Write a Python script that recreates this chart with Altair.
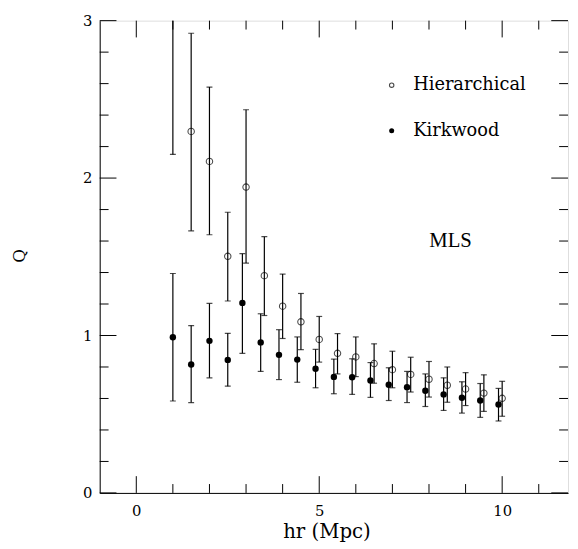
import altair as alt
import pandas as pd

# Hierarchical (open circles)
h_x = [1.0, 1.5, 2.0, 2.5, 3.0, 3.5, 4.0, 4.5, 5.0, 5.5, 6.0, 6.5, 7.0, 7.5, 8.0, 8.5, 9.0, 9.5, 10.0]
h_q = [3.5, 2.296, 2.106, 1.503, 1.943, 1.380, 1.186, 1.087, 0.975, 0.887, 0.864, 0.822, 0.783, 0.753, 0.722, 0.684, 0.660, 0.634, 0.601]
h_lo = [2.15, 1.665, 1.64, 1.219, 1.46, 1.127, 0.981, 0.910, 0.831, 0.756, 0.739, 0.697, 0.668, 0.641, 0.609, 0.576, 0.555, 0.518, 0.487]
h_hi = [4.5, 2.92, 2.578, 1.783, 2.434, 1.628, 1.390, 1.267, 1.121, 1.012, 0.991, 0.947, 0.900, 0.862, 0.835, 0.800, 0.764, 0.750, 0.709]

# Kirkwood (filled circles)
k_x = [1.0, 1.5, 2.0, 2.5, 2.9, 3.4, 3.9, 4.4, 4.9, 5.4, 5.9, 6.4, 6.9, 7.4, 7.9, 8.4, 8.9, 9.4, 9.9]
k_q = [0.989, 0.816, 0.966, 0.845, 1.207, 0.956, 0.877, 0.847, 0.789, 0.737, 0.735, 0.714, 0.687, 0.672, 0.649, 0.626, 0.605, 0.587, 0.562]
k_lo = [0.584, 0.574, 0.731, 0.678, 0.887, 0.772, 0.720, 0.703, 0.668, 0.630, 0.626, 0.607, 0.587, 0.574, 0.549, 0.524, 0.507, 0.480, 0.457]
k_hi = [1.394, 1.063, 1.204, 1.014, 1.52, 1.138, 1.037, 0.991, 0.912, 0.850, 0.852, 0.828, 0.795, 0.772, 0.756, 0.731, 0.706, 0.695, 0.664]

x_major = [0, 5, 10]
x_minor = [1, 2, 3, 4, 6, 7, 8, 9, 11]
y_major = [0, 1, 2, 3]
y_minor = [0.2, 0.4, 0.6, 0.8, 1.2, 1.4, 1.6, 1.8, 2.2, 2.4, 2.6, 2.8]

legend_labels = ["Hierarchical", "Kirkwood"]
panel_label = "MLS"

W, H = 475, 479
FONT = "DejaVu Serif"

hdf = pd.DataFrame({"x": h_x, "q": h_q, "lo": h_lo, "hi": h_hi})
kdf = pd.DataFrame({"x": k_x, "q": k_q, "lo": k_lo, "hi": k_hi})

xs = alt.Scale(domain=[-1, 11.8], nice=False, zero=False)
ys = alt.Scale(domain=[0, 3], nice=False, zero=False)

xaxis = alt.Axis(values=x_major, format="d", ticks=False, grid=False, labelPadding=11,
                 labelFont=FONT, labelFontSize=15, labelColor="black",
                 title="hr (Mpc)", titleFont=FONT, titleFontSize=20, titleColor="black",
                 titleFontWeight="normal", titlePadding=3, titleX=230, domainColor="black")
yaxis = alt.Axis(values=y_major, format="d", ticks=False, grid=False, labelPadding=8,
                 labelFont=FONT, labelFontSize=15, labelColor="black",
                 title="Q", titleFont=FONT, titleFontSize=17, titleColor="black",
                 titleFontWeight="normal", titleX=-81, titleY=238, titleAngle=270,
                 titleBaseline="middle", domainColor="black")


def errbars(df):
    base = alt.Chart(df)
    bar = base.mark_rule(color="black", strokeWidth=1.2, clip=True).encode(
        x=alt.X("x:Q", scale=xs, axis=xaxis),
        y=alt.Y("lo:Q", scale=ys, axis=yaxis),
        y2="hi:Q",
    )
    cap_lo = base.mark_tick(color="black", orient="horizontal", size=6, thickness=1.2, clip=True).encode(
        x=alt.X("x:Q", scale=xs), y=alt.Y("lo:Q", scale=ys))
    cap_hi = base.mark_tick(color="black", orient="horizontal", size=6, thickness=1.2, clip=True).encode(
        x=alt.X("x:Q", scale=xs), y=alt.Y("hi:Q", scale=ys))
    return [bar, cap_lo, cap_hi]


h_pts = alt.Chart(hdf).mark_point(shape="circle", filled=False, color="black",
                                  strokeWidth=1.1, size=42, clip=True).encode(
    x=alt.X("x:Q", scale=xs), y=alt.Y("q:Q", scale=ys))
k_pts = alt.Chart(kdf).mark_point(shape="circle", filled=True, color="black",
                                  opacity=1, size=42, clip=True).encode(
    x=alt.X("x:Q", scale=xs), y=alt.Y("q:Q", scale=ys))


def tick_layer(vals, axis, length):
    d = pd.DataFrame({"v": vals})
    c = alt.Chart(d).mark_rule(color="black", strokeWidth=1)
    if axis == "bottom":
        return c.encode(x=alt.X("v:Q", scale=xs), y=alt.value(H), y2=alt.value(H - length))
    if axis == "top":
        return c.encode(x=alt.X("v:Q", scale=xs), y=alt.value(0), y2=alt.value(length))
    if axis == "left":
        return c.encode(y=alt.Y("v:Q", scale=ys), x=alt.value(0), x2=alt.value(length))
    return c.encode(y=alt.Y("v:Q", scale=ys), x=alt.value(W), x2=alt.value(W - length))


ticks = []
for side in ["bottom", "top"]:
    ticks.append(tick_layer(x_major, side, 17))
    ticks.append(tick_layer(x_minor, side, 9))
for side in ["left", "right"]:
    ticks.append(tick_layer(y_major, side, 17))
    ticks.append(tick_layer(y_minor, side, 9))

leg_df = pd.DataFrame({"label": legend_labels})
leg_open = alt.Chart(leg_df).transform_filter(alt.datum.label == legend_labels[0]).mark_point(
    shape="circle", filled=False, color="black", size=20, strokeWidth=1.1).encode(
    x=alt.datum(6.98, scale=xs), y=alt.datum(2.59, scale=ys))
leg_fill = alt.Chart(leg_df).transform_filter(alt.datum.label == legend_labels[1]).mark_point(
    shape="circle", filled=True, color="black", opacity=1, size=26).encode(
    x=alt.datum(6.98, scale=xs), y=alt.datum(2.30, scale=ys))
leg_t1 = alt.Chart(leg_df).transform_filter(alt.datum.label == legend_labels[0]).mark_text(
    align="left", baseline="middle", font=FONT, fontSize=18, color="black").encode(
    x=alt.datum(7.57, scale=xs), y=alt.datum(2.59, scale=ys), text="label:N")
leg_t2 = alt.Chart(leg_df).transform_filter(alt.datum.label == legend_labels[1]).mark_text(
    align="left", baseline="middle", font=FONT, fontSize=18, color="black").encode(
    x=alt.datum(7.57, scale=xs), y=alt.datum(2.30, scale=ys), text="label:N")
mls = alt.Chart(pd.DataFrame({"t": [panel_label]})).mark_text(
    align="center", baseline="middle", font="Liberation Serif", fontSize=21, color="black").encode(
    x=alt.datum(8.59, scale=xs), y=alt.datum(1.60, scale=ys), text="t:N")

layers = errbars(hdf) + errbars(kdf) + [h_pts, k_pts] + ticks + [leg_open, leg_fill, leg_t1, leg_t2, mls]

chart = alt.layer(*layers).properties(
    width=W, height=H,
    autosize=alt.AutoSizeParams(type="none"),
    padding={"left": 93, "top": 9, "right": 2, "bottom": 50},
).configure_view(stroke="black", strokeWidth=1.2).configure_axis(
    labelFont=FONT, titleFont=FONT, labelColor="black", titleColor="black",
    domainWidth=1.2,
).configure(background="white")

chart.save("out.html", embed_options={"renderer": "svg", "actions": False})
